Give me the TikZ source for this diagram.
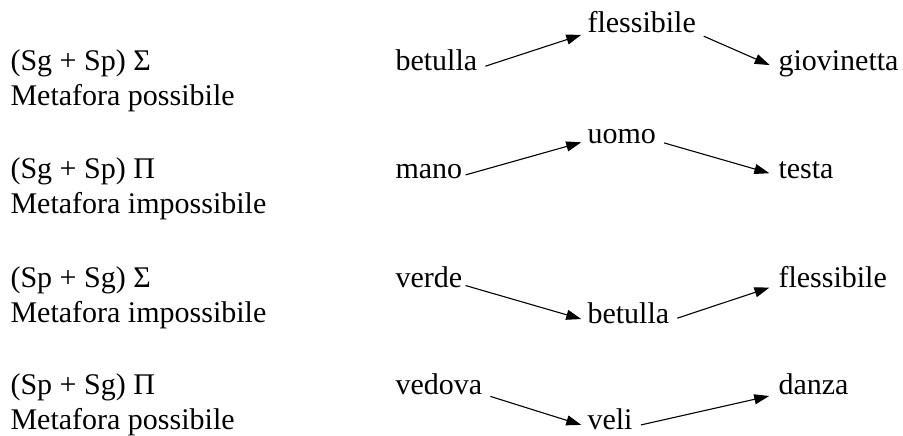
\documentclass[tikz,border=0pt]{standalone}
\usepackage{fontspec}
\setmainfont{Liberation Serif}
\usetikzlibrary{arrows.meta, positioning}
\tikzset{
  every picture/.style={line width=1.1pt},
  word/.style={font=\fontsize{30}{35}\selectfont, inner sep=0pt, anchor=base west},
  arrow/.style={-{Triangle[length=15pt, width=10pt]}, shorten <=8pt, shorten >=6pt},
}

\begin{document}
\begin{tikzpicture}[x=1pt, y=-1pt]
  \useasboundingbox (0,0) rectangle (903,436);
  % formule e tipo di metafora
  \node[word] (c1) at (10,71) {(Sg + Sp) Σ};
  \node[word] (m1) at ([yshift=-35pt]c1.base west) {Metafora possibile};
  \node[word] (c2) at (10,178) {(Sg + Sp) Π};
  \node[word] (m2) at ([yshift=-35pt]c2.base west) {Metafora impossibile};
  \node[word] (c3) at (10,287) {(Sp + Sg) Σ};
  \node[word] (m3) at ([yshift=-35pt]c3.base west) {Metafora impossibile};
  \node[word] (c4) at (10,394) {(Sp + Sg) Π};
  \node[word] (m4) at ([yshift=-35pt]c4.base west) {Metafora possibile};
  % catene di parole
  \node[word] (betulla) at (395,71) {betulla};
  \node[word] (flex) at (587,33) {flessibile};
  \node[word] (giov) at (778,71) {giovinetta};
  \node[word] (mano) at (395,178) {mano};
  \node[word] (uomo) at (587,143) {uomo};
  \node[word] (testa) at (778,178) {testa};
  \node[word] (verde) at (395,287) {verde};
  \node[word] (betulla2) at (587,323) {betulla};
  \node[word] (flex2) at (778,287) {flessibile};
  \node[word] (vedova) at (395,394) {vedova};
  \node[word] (veli) at (587,429) {veli};
  \node[word] (danza) at (778,394) {danza};
  \draw[arrow] (betulla.mid east) -- (flex.base west);
  \draw[arrow, shorten >=9pt] (flex.base east) -- (giov.mid west);
  \draw[arrow, shorten <=3pt] (mano.mid east) -- (uomo.mid west);
  \draw[arrow, shorten >=9pt] (uomo.mid east) -- (testa.mid west);
  \draw[arrow, shorten <=3pt] (verde.mid east) -- (betulla2.mid west);
  \draw[arrow, shorten >=9pt] (betulla2.mid east) -- (flex2.mid west);
  \draw[arrow] (vedova.base east) -- (veli.mid west);
  \draw[arrow, shorten >=9pt] (veli.mid east) -- (danza.base west);
\end{tikzpicture}
\end{document}
